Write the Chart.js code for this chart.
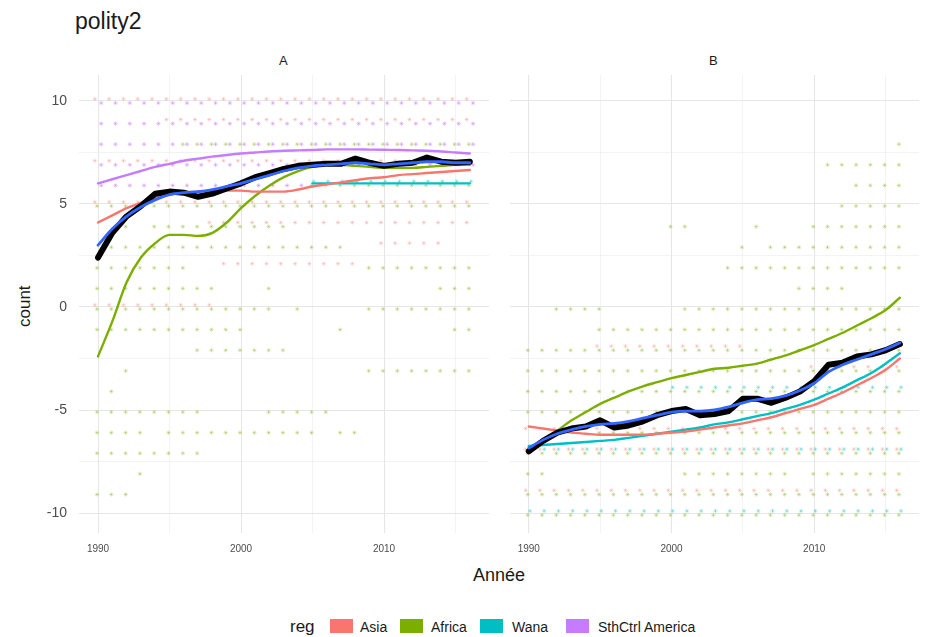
<!DOCTYPE html>
<html>
<head>
<meta charset="utf-8">
<script src="https://cdn.jsdelivr.net/npm/chart.js@4.4.1/dist/chart.umd.min.js"></script>
<style>
  body { margin: 0; background: #fff; width: 934px; height: 637px; position: relative; overflow: hidden;
         font-family: "Liberation Sans", Arial, sans-serif; }
  .txt { position: absolute; white-space: nowrap; color: #1a1a1a; line-height: 1; }
  #boxA { position: absolute; left: 0; top: 70px; }
  #boxB { position: absolute; left: 505px; top: 70px; }
  .key { position: absolute; top: 619px; width: 23px; height: 14px; }
</style>
</head>
<body>
<div class="txt" style="left:75px; top:10px; font-size:23px;">polity2</div>
<div class="txt" style="left:279px; top:54px; font-size:13px;">A</div>
<div class="txt" style="left:709px; top:54px; font-size:13px;">B</div>
<div class="txt" style="left:5px; top:298px; font-size:17px; transform: rotate(-90deg); transform-origin: 20px 9px;">count</div>
<div class="txt" style="left:473px; top:566px; font-size:18px;">Année</div>

<div class="txt" style="left:290px; top:618px; font-size:17px;">reg</div>
<div class="key" style="left:330px; background:#F8766D;"></div>
<div class="txt" style="left:360px; top:620px; font-size:14px;">Asia</div>
<div class="key" style="left:400px; background:#7CAE00;"></div>
<div class="txt" style="left:431px; top:620px; font-size:14px;">Africa</div>
<div class="key" style="left:480px; background:#00BFC4;"></div>
<div class="txt" style="left:512px; top:620px; font-size:14px;">Wana</div>
<div class="key" style="left:566px; background:#C77CFF;"></div>
<div class="txt" style="left:598px; top:620px; font-size:14px;">SthCtrl America</div>

<canvas id="boxA" width="495" height="490"></canvas>
<canvas id="boxB" width="420" height="490"></canvas>

<script>
const years = [1990, 1991, 1992, 1993, 1994, 1995, 1996, 1997, 1998, 1999, 2000, 2001, 2002, 2003,
               2004, 2005, 2006, 2007, 2008, 2009, 2010, 2011, 2012, 2013, 2014, 2015, 2016];
const wanaYearsA = [2005, 2006, 2007, 2008, 2009, 2010, 2011, 2012, 2013, 2014, 2015, 2016];

// panel A : yearly mean, overall smooth and one smooth per region
const meanA   = [2.4, 3.6, 4.4, 4.9, 5.5, 5.6, 5.55, 5.35, 5.5, 5.75, 6.0, 6.3, 6.5, 6.7, 6.85, 6.9, 6.95, 6.95, 7.2, 7.0, 6.85, 6.95, 7.0, 7.25, 7.05, 7.0, 7.05];
const smoothA = [3.0, 3.8, 4.4, 4.85, 5.2, 5.45, 5.55, 5.6, 5.7, 5.85, 6.0, 6.2, 6.4, 6.6, 6.75, 6.85, 6.9, 6.95, 7.0, 6.95, 6.9, 6.95, 7.0, 7.05, 7.05, 7.0, 7.0];
const asiaA   = [4.1, 4.45, 4.8, 5.05, 5.3, 5.45, 5.55, 5.6, 5.65, 5.65, 5.65, 5.6, 5.6, 5.6, 5.7, 5.85, 5.95, 6.05, 6.15, 6.25, 6.3, 6.4, 6.45, 6.5, 6.55, 6.6, 6.65];
const africaA = [-2.4, -0.7, 1.2, 2.4, 3.1, 3.5, 3.5, 3.45, 3.6, 4.1, 4.8, 5.4, 5.9, 6.3, 6.6, 6.8, 6.9, 6.9, 6.85, 6.8, 6.75, 6.75, 6.75, 6.8, 6.85, 6.9, 6.9];
const wanaA   = [6.0, 6.0, 6.0, 6.0, 6.0, 6.0, 6.0, 6.0, 6.0, 6.0, 6.0, 6.0];
const sthA    = [6.0, 6.2, 6.4, 6.6, 6.8, 6.95, 7.1, 7.2, 7.3, 7.38, 7.45, 7.5, 7.55, 7.58, 7.6, 7.62, 7.65, 7.65, 7.65, 7.64, 7.63, 7.62, 7.6, 7.58, 7.55, 7.5, 7.45];

// panel B
const meanB   = [-7.0, -6.5, -6.1, -5.9, -5.8, -5.5, -5.85, -5.75, -5.55, -5.25, -5.05, -4.95, -5.25, -5.2, -5.05, -4.45, -4.45, -4.65, -4.4, -4.1, -3.6, -2.8, -2.7, -2.4, -2.3, -2.1, -1.8];
const smoothB = [-6.85, -6.45, -6.15, -5.95, -5.8, -5.7, -5.65, -5.55, -5.4, -5.25, -5.1, -5.05, -5.05, -5.0, -4.85, -4.65, -4.5, -4.45, -4.3, -4.05, -3.7, -3.15, -2.8, -2.55, -2.3, -2.05, -1.75];
const asiaB   = [-5.8, -5.9, -6.0, -6.1, -6.15, -6.2, -6.2, -6.2, -6.2, -6.15, -6.1, -6.05, -5.95, -5.85, -5.75, -5.65, -5.5, -5.35, -5.15, -4.95, -4.75, -4.45, -4.15, -3.8, -3.45, -3.05, -2.5];
const africaB = [-7.0, -6.5, -6.0, -5.5, -5.1, -4.7, -4.4, -4.1, -3.85, -3.65, -3.45, -3.3, -3.15, -3.0, -2.95, -2.85, -2.75, -2.55, -2.35, -2.1, -1.85, -1.55, -1.25, -0.9, -0.55, -0.15, 0.45];
const wanaB   = [-6.75, -6.7, -6.65, -6.6, -6.55, -6.5, -6.45, -6.35, -6.25, -6.15, -6.05, -5.95, -5.85, -5.7, -5.6, -5.45, -5.3, -5.15, -4.95, -4.75, -4.5, -4.2, -3.9, -3.55, -3.2, -2.75, -2.25];

// country-year observations: [polity2 score, first year, last year]
const obsAsiaA = [[10, 1990, 2016], [9, 1995, 2016], [7, 1990, 2016], [5, 1990, 2016], [4, 1998, 2016],
                  [3, 2010, 2014], [2, 1999, 2008], [0, 1990, 1998]];
const obsAfricaA = [[8, 1996, 2016], [6, 2005, 2016], [5, 1990, 2016], [4, 1992, 1992], [4, 1994, 2003],
                    [3, 1991, 2007], [2, 1990, 1996], [2, 2009, 2016], [1, 1990, 1998], [1, 2002, 2002],
                    [1, 2014, 2016], [0, 1990, 2002], [0, 2004, 2004], [0, 2009, 2016], [-1, 1990, 2000],
                    [-1, 2007, 2007], [-1, 2015, 2016], [-2, 1997, 2003], [-3, 1992, 1992], [-3, 2009, 2016],
                    [-4, 1991, 1991], [-5, 1990, 1997], [-5, 2002, 2006], [-6, 1990, 1993], [-6, 1995, 2005],
                    [-6, 2007, 2008], [-7, 1990, 1997], [-8, 1993, 1993], [-9, 1990, 1992]];
const obsWanaA = [[6, 2005, 2016]];
const obsSthA = [[10, 1990, 2016], [9, 1990, 2016], [8, 1990, 2016], [7, 1990, 2016], [6, 1990, 2004]];

const obsAsiaB = [[-2, 1995, 2005], [-3, 2010, 2016], [-6, 1990, 2016], [-7, 1990, 2016], [-9, 1990, 2016]];
const obsAfricaB = [[8, 2016, 2016], [7, 2011, 2016], [6, 2013, 2016], [5, 2012, 2016], [4, 2000, 2001],
                    [4, 2006, 2006], [4, 2010, 2016], [3, 2005, 2005], [3, 2007, 2016], [2, 2004, 2016],
                    [1, 2009, 2012], [0, 1992, 1995], [0, 2001, 2016], [-1, 1995, 2016], [-2, 1990, 2016],
                    [-3, 1990, 2016], [-4, 1990, 2016], [-5, 1990, 2016], [-6, 1995, 2016], [-7, 1990, 2016],
                    [-8, 1990, 1991], [-8, 2001, 2008], [-8, 2010, 2016], [-9, 1990, 2016], [-10, 1990, 2016]];
const obsWanaB = [[-4, 2000, 2016], [-7, 1990, 2016], [-10, 1990, 2016]];

const regColors = { Asia: '#F8766D', Africa: '#7CAE00', Wana: '#00BFC4', Sth: '#C77CFF' };

function alpha(hex, a) {
  const n = parseInt(hex.slice(1), 16);
  return `rgba(${n >> 16}, ${(n >> 8) & 255}, ${n & 255}, ${a})`;
}

// expand spans into points, shifted a little per region so they don't sit on top of each other
function obsPoints(spans, dx, dy) {
  const pts = [];
  spans.forEach(([v, y0, y1]) => {
    for (let y = y0; y <= y1; y++) pts.push({ x: y + dx, y: v + dy });
  });
  return pts;
}

function pointSet(spans, color, dx, dy, a) {
  return {
    data: obsPoints(spans, dx, dy),
    pointStyle: 'star',
    pointRadius: 2.2,
    borderWidth: 0.8,
    borderColor: alpha(color, a),
    backgroundColor: alpha(color, a),
    showLine: false,
    order: 10
  };
}

function lineSet(xs, ys, color, width, smooth, order) {
  return {
    data: xs.map((x, i) => ({ x: x, y: ys[i] })),
    showLine: true,
    pointRadius: 0,
    borderColor: color,
    borderWidth: width,
    borderJoinStyle: 'round',
    borderCapStyle: 'round',
    cubicInterpolationMode: smooth ? 'monotone' : 'default',
    tension: 0,
    order: order
  };
}

const gridColor = '#e6e6e6';

function makeScales(showY) {
  return {
    x: {
      type: 'linear',
      min: 1988.67,
      max: 2017.34,
      afterBuildTicks: s => { s.ticks = [1990, 1995, 2000, 2005, 2010, 2015].map(v => ({ value: v })); },
      afterFit: s => { s.height = 27; s.paddingLeft = 0; s.paddingRight = 0; },
      border: { display: false },
      grid: {
        drawTicks: false,
        color: gridColor,
        lineWidth: ctx => (ctx.tick && ctx.tick.value % 10 === 0) ? 1 : 0.5
      },
      ticks: {
        autoSkip: false,
        maxRotation: 0,
        padding: 10,
        color: '#4d4d4d',
        font: { family: '"Liberation Sans", Arial, sans-serif', size: 10 },
        callback: v => (v % 10 === 0 ? String(v) : '')
      }
    },
    y: {
      min: -10.97,
      max: 11.26,
      afterBuildTicks: s => { s.ticks = [-10, -7.5, -5, -2.5, 0, 2.5, 5, 7.5, 10].map(v => ({ value: v })); },
      // keep the panel edge fixed, whatever room the labels ask for
      afterFit: s => { s.width = showY ? 79 : 0; s.paddingTop = 0; s.paddingBottom = 0; },
      border: { display: false },
      grid: {
        drawTicks: false,
        color: gridColor,
        lineWidth: ctx => (ctx.tick && ctx.tick.value % 5 === 0) ? 1 : 0.5
      },
      ticks: {
        display: showY,
        padding: 12,
        color: '#4d4d4d',
        font: { family: '"Liberation Sans", Arial, sans-serif', size: 14 },
        callback: v => (v % 5 === 0 ? String(v) : '')
      }
    }
  };
}

function facet(canvasId, datasets, showY, padLeft) {
  new Chart(document.getElementById(canvasId), {
    type: 'scatter',
    data: { datasets: datasets },
    options: {
      responsive: false,
      animation: false,
      layout: { padding: { left: padLeft, right: 6, top: 5, bottom: 0 } },
      plugins: { legend: { display: false }, tooltip: { enabled: false } },
      scales: makeScales(showY)
    }
  });
}

facet('boxA', [
  pointSet(obsAsiaA, regColors.Asia, -0.22, 0.1, 0.3),
  pointSet(obsAfricaA, regColors.Africa, -0.07, -0.1, 0.35),
  pointSet(obsWanaA, regColors.Wana, 0.08, 0.1, 0.35),
  pointSet(obsSthA, regColors.Sth, 0.22, -0.1, 0.5),
  lineSet(years, asiaA, regColors.Asia, 2.4, true, 5),
  lineSet(years, africaA, regColors.Africa, 2.4, true, 5),
  lineSet(wanaYearsA, wanaA, regColors.Wana, 2.4, true, 5),
  lineSet(years, sthA, regColors.Sth, 2.4, true, 5),
  lineSet(years, meanA, '#000000', 6, false, 2),
  lineSet(years, smoothA, '#3366FF', 2.8, true, 1)
], true, 0);

facet('boxB', [
  pointSet(obsAsiaB, regColors.Asia, -0.22, 0.1, 0.3),
  pointSet(obsAfricaB, regColors.Africa, -0.07, -0.1, 0.35),
  pointSet(obsWanaB, regColors.Wana, 0.08, 0.1, 0.35),
  lineSet(years, asiaB, regColors.Asia, 2.4, true, 5),
  lineSet(years, africaB, regColors.Africa, 2.4, true, 5),
  lineSet(years, wanaB, regColors.Wana, 2.4, true, 5),
  lineSet(years, meanB, '#000000', 6, false, 2),
  lineSet(years, smoothB, '#3366FF', 2.8, true, 1)
], false, 4);
</script>
</body>
</html>
